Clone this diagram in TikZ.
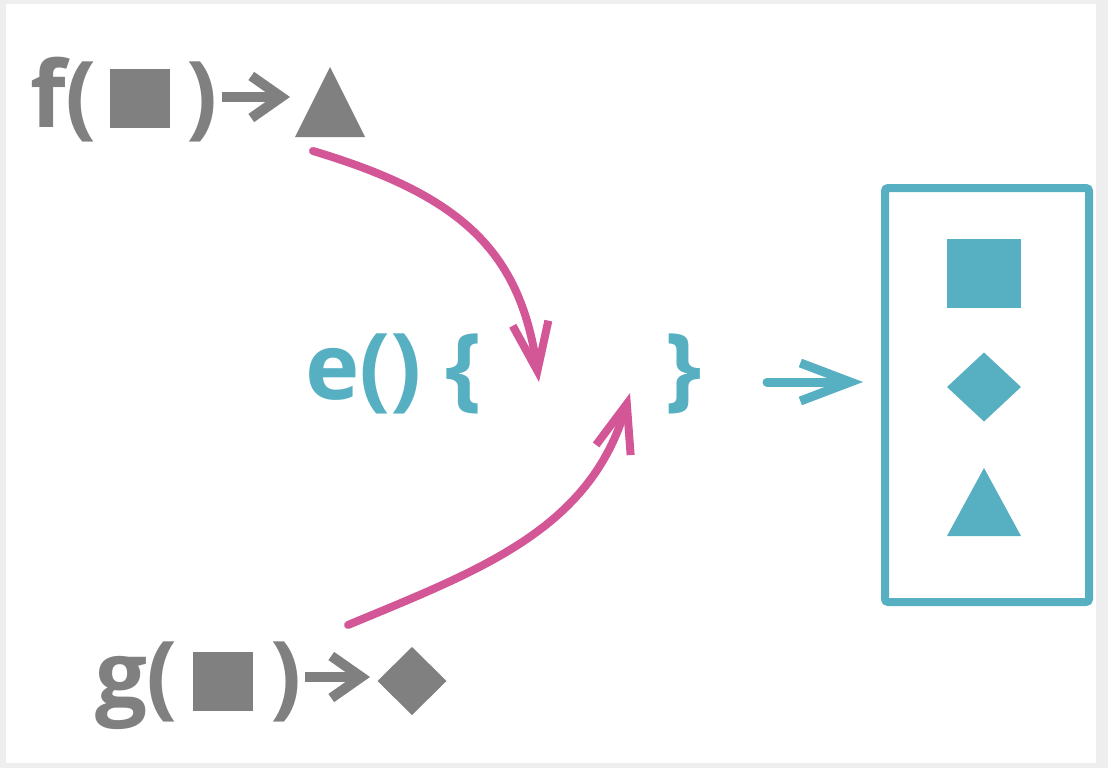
\documentclass[tikz,border=0pt]{standalone}
\usepackage{fontspec}
\setmainfont{Open Sans}
\usetikzlibrary{arrows.meta,shapes.geometric}
\definecolor{fgray}{RGB}{128,128,128}
\definecolor{fpink}{RGB}{211,86,150}
\definecolor{fteal}{RGB}{86,176,194}
\definecolor{bggray}{RGB}{238,238,238}
\tikzset{
  gtxt/.style={text=fgray, font=\bfseries\fontsize{92}{92}\selectfont, inner sep=0pt, outer sep=0pt, anchor=base west},
  ttxt/.style={gtxt, text=fteal},
  gsq/.style={fill=fgray, draw=none, inner sep=0pt, outer sep=0pt, minimum width=60pt, minimum height=59pt},
  gdia/.style={diamond, fill=fgray, draw=none, inner sep=0pt, outer sep=0pt, minimum width=69pt, minimum height=68pt},
  tsq/.style={fill=fteal, draw=none, inner sep=0pt, outer sep=0pt, minimum width=74pt, minimum height=69pt},
  tdia/.style={diamond, fill=fteal, draw=none, inner sep=0pt, outer sep=0pt, minimum width=74pt, minimum height=69pt},
  grayarrow/.style={draw=fgray, line width=10pt, -{Straight Barb[length=30pt, width=42pt, sharp]}},
  pinkarrow/.style={draw=fpink, line width=8pt, line cap=round, -{Straight Barb[length=48pt, width=36pt, sharp]}},
  tealarrow/.style={draw=fteal, line width=9pt, line cap=round, -{Straight Barb[length=50pt, width=38pt, sharp]}},
  resultbox/.style={draw=fteal, line width=8pt, rounded corners=3pt, inner sep=0pt, minimum width=204pt, minimum height=414pt}
}
\begin{document}
\begin{tikzpicture}[x=1pt, y=-1pt]
\useasboundingbox (0,0) rectangle (1108,768);
\fill[bggray] (0,0) rectangle (1108,768);
\fill[white] (6,4) rectangle (1096,763);

% row f
\node[gtxt] (f) at (30,127) {f(};
\node[gsq] (fsq) at (140,98.5) {};
\node[gtxt] (frp) at (186,127) {)};
\coordinate (fas) at (222,97);
\coordinate (fae) at (290,97);
\draw[grayarrow] (fas) -- (fae);
\fill[fgray] (295,137) -- (330,67) -- (365,137) -- cycle;
\coordinate (ftri) at (313,151);

% row g
\node[gtxt] (g) at (95,707) {g(};
\node[gsq] (gsqn) at (223,681) {};
\node[gtxt] (grp) at (270,707) {)};
\coordinate (gas) at (305,677);
\coordinate (gae) at (370,677);
\draw[grayarrow] (gas) -- (gae);
\node[gdia] (gd) at (412,681) {};
\coordinate (gstart) at (348,625);

% e() { }
\node[ttxt] (e) at (305,399) {e() \{};
\node[ttxt] (rb) at (665,399) {\}};
\coordinate (in1) at (539,382);
\coordinate (in2) at (630,393);

% pink connectors
\draw[pinkarrow] (ftri) .. controls (460,195) and (520,250) .. (in1);
\draw[pinkarrow] (gstart) .. controls (480,570) and (590,530) .. (in2);

% output arrow and box
\node[resultbox] (box) at (987,395) {};
\coordinate (tas) at (767,382);
\coordinate (tae) at (863,382);
\draw[tealarrow] (tas) -- (tae);
\node[tsq] (osq) at (984,273.5) {};
\node[tdia] (odia) at (984,387) {};
\fill[fteal] (947,536) -- (984,468) -- (1021,536) -- cycle;
\end{tikzpicture}
\end{document}
